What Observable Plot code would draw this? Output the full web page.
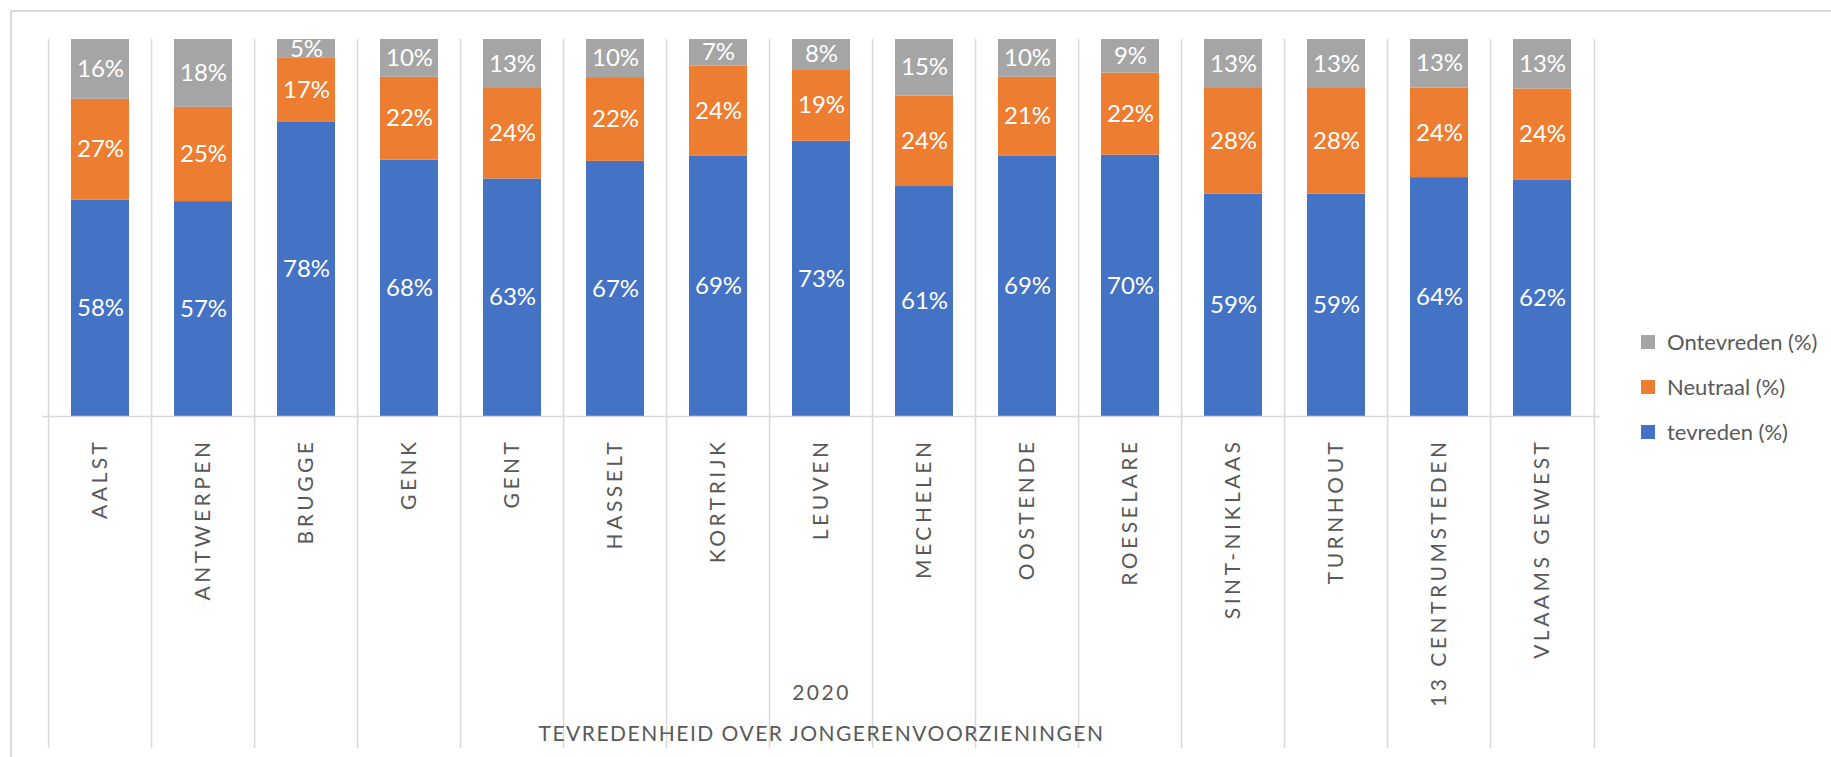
<!DOCTYPE html>
<html>
<head>
<meta charset="utf-8">
<script src="https://cdn.jsdelivr.net/npm/d3@7"></script>
<script src="https://cdn.jsdelivr.net/npm/@observablehq/plot@0.6"></script>
<style>
  html, body { margin: 0; padding: 0; background: #fff; }
  #wrap { position: relative; width: 1831px; height: 757px; overflow: hidden; font-family: Lato, sans-serif; }
  #frame { position: absolute; left: 10px; top: 10px; right: -5px; bottom: -5px; border-left: 2px solid #D9D9D9; border-top: 2px solid #D9D9D9; }
  #chart { position: absolute; left: 0; top: 0; }
  #legend { position: absolute; left: 1641px; top: 319px; }
  .item { display: flex; align-items: center; height: 45px; font-size: 22px; color: #595959; }
  .sw { width: 14px; height: 14px; margin-right: 12px; }
</style>
</head>
<body>
<div id="wrap">
  <div id="frame"></div>
  <div id="chart"></div>
  <div id="legend"></div>
</div>
<script>
const categories = ["AALST","ANTWERPEN","BRUGGE","GENK","GENT","HASSELT","KORTRIJK","LEUVEN","MECHELEN","OOSTENDE","ROESELARE","SINT-NIKLAAS","TURNHOUT","13 CENTRUMSTEDEN","VLAAMS GEWEST"];
const tevreden   = [58,57,78,68,63,67,69,73,61,69,70,59,59,64,62];
const neutraal   = [27,25,17,22,24,22,24,19,24,21,22,28,28,24,24];
const ontevreden = [16,18, 5,10,13,10, 7, 8,15,10, 9,13,13,13,13];
const seriesNames = ["tevreden (%)","Neutraal (%)","Ontevreden (%)"];
const seriesColors = ["#4472C4","#ED7D31","#A5A5A5"];
const yearLabel = "2020";
const axisTitle = "TEVREDENHEID OVER JONGERENVOORZIENINGEN";

const seriesValues = [tevreden, neutraal, ontevreden];
const rows = [];
seriesNames.forEach((s, si) => {
  categories.forEach((c, ci) => rows.push({category: c, series: s, value: seriesValues[si][ci]}));
});

const W = 1831, H = 757, mL = 42, mR = 231, mT = 39, mB = 341;
const step = (W - mL - mR) / categories.length;
const gridColor = "#D9D9D9";

const chart = Plot.plot({
  width: W, height: H,
  marginLeft: mL, marginRight: mR, marginTop: mT, marginBottom: mB,
  x: {domain: categories, paddingInner: 0.44, paddingOuter: 0.22, axis: null},
  y: {domain: [0, 1], axis: null},
  color: {domain: seriesNames, range: seriesColors},
  style: {fontFamily: "Lato, sans-serif", background: "transparent", overflow: "visible"},
  marks: [
    Plot.ruleX(categories, {x: d => d, dx: -step / 2, stroke: gridColor, strokeWidth: 1.5, insetBottom: -332}),
    Plot.ruleX(categories.slice(-1), {x: d => d, dx: step / 2, stroke: gridColor, strokeWidth: 1.5, insetBottom: -332}),
    Plot.barY(rows, Plot.stackY({offset: "normalize", x: "category", y: "value", fill: "series"})),
    Plot.text(rows, Plot.stackY({offset: "normalize", x: "category", y: "value", z: "series",
      text: d => d.value + "%", fill: "white", fontSize: 24})),
    Plot.ruleY([0], {stroke: gridColor, strokeWidth: 1.5}),
    Plot.text(categories, {x: d => d, text: d => d, frameAnchor: "bottom", lineAnchor: "middle", rotate: -90, textAnchor: "end",
      dy: 22, fontSize: 21, fill: "#595959"}),
    Plot.text([yearLabel], {text: d => d, frameAnchor: "bottom", lineAnchor: "middle", dy: 277, fontSize: 21, fill: "#595959"}),
    Plot.text([axisTitle], {text: d => d, frameAnchor: "bottom", lineAnchor: "middle", dy: 318, fontSize: 21, fill: "#595959"})
  ]
});
document.getElementById("chart").appendChild(chart);
const svgTexts = d3.select(chart).selectAll("text");
svgTexts.filter(function() { return categories.includes(this.textContent); })
  .attr("letter-spacing", "3.5px").style("letter-spacing", "3.5px");
svgTexts.filter(function() { return this.textContent === yearLabel; })
  .attr("letter-spacing", "2.5px").style("letter-spacing", "2.5px");
svgTexts.filter(function() { return this.textContent === axisTitle; })
  .attr("letter-spacing", "1.5px").style("letter-spacing", "1.5px");

const legend = d3.select("#legend");
[2, 1, 0].forEach(i => {
  const item = legend.append("div").attr("class", "item");
  item.append("div").attr("class", "sw").style("background", seriesColors[i]);
  item.append("span").text(seriesNames[i]);
});
</script>
</body>
</html>
